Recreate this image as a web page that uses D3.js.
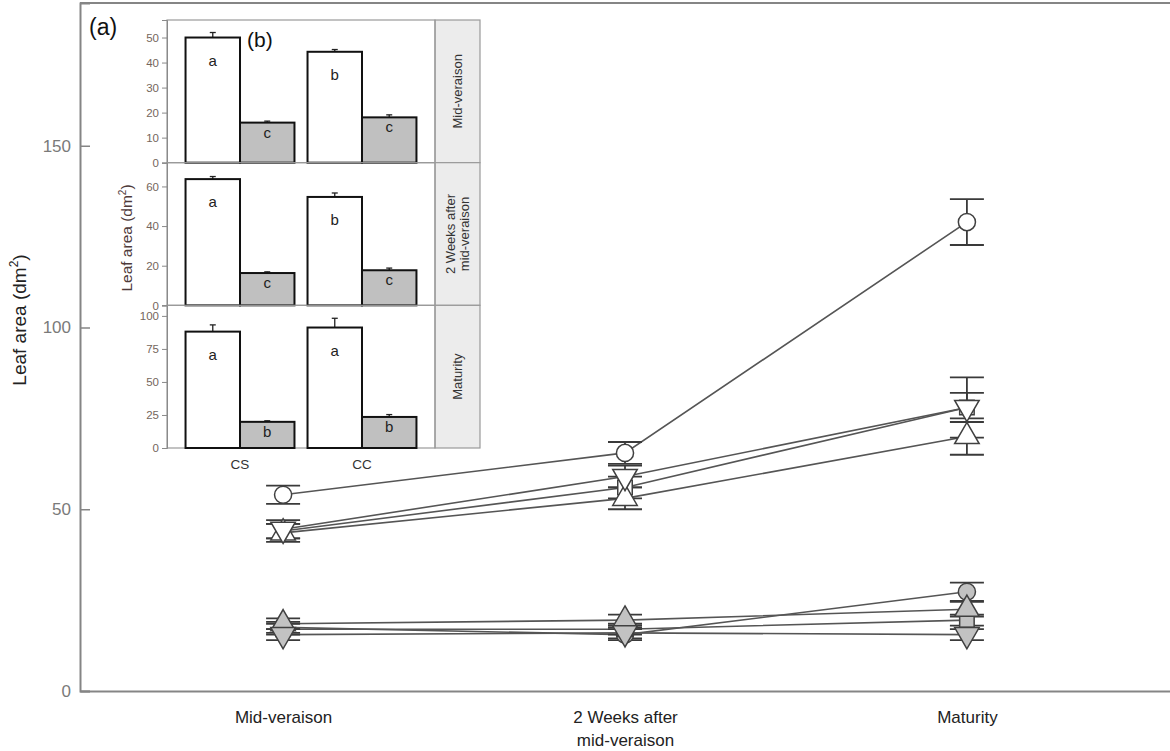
<!DOCTYPE html>
<html>
<head>
<meta charset="utf-8">
<script src="https://cdn.jsdelivr.net/npm/d3@7"></script>
<style>
  body { margin: 0; background: #fff; }
  svg text { font-family: Arial, "Liberation Sans", sans-serif; }
</style>
</head>
<body>
<svg id="chart" width="1170" height="751"></svg>
<script>
// ---- main panel (a): leaf area over three sampling stages ----
const stages = ["Mid-veraison", "2 Weeks after|mid-veraison", "Maturity"];
const yTicks = [0, 50, 100, 150];

const seriesShapes = ["circle", "square", "triangleUp", "triangleDown",
                      "circle", "square", "triangleUp", "triangleDown"];
const seriesFills  = ["open", "open", "open", "open", "grey", "grey", "grey", "grey"];
const seriesMeans = [
  [54, 65.5, 129],
  [44, 56, 78],
  [43.5, 53, 70],
  [44.5, 59, 78],
  [17.5, 15.5, 27.3],
  [17, 17, 19.5],
  [18.5, 19.5, 22.5],
  [15.5, 16, 15.5]
];
const seriesErrors = [
  [2.5, 3, 6.3],
  [2, 3, 4],
  [2.5, 3, 5],
  [2.5, 3, 8.3],
  [1.5, 1.5, 2.5],
  [1.5, 1.5, 1.5],
  [1.5, 1.5, 2],
  [1.5, 1.5, 1.5]
];

// ---- inset panel (b): CS vs CC at each stage ----
const insetGroups = ["CS", "CC"];
const insetStrips = ["Mid-veraison", "2 Weeks after|mid-veraison", "Maturity"];
const insetOpenMeans = [[50, 44.3], [63.7, 54.7], [88.1, 91.2]];
const insetOpenErr   = [[2, 0.9], [1.3, 2], [5.1, 7]];
const insetGreyMeans = [[16, 18.1], [16.3, 17.7], [19.8, 23.5]];
const insetGreyErr   = [[0.6, 1.0], [0.6, 1.1], [0.8, 1.8]];
const insetOpenLetters = [["a", "b"], ["a", "b"], ["a", "a"]];
const insetGreyLetters = [["c", "c"], ["c", "c"], ["b", "b"]];
const insetTicks = [[0, 10, 20, 30, 40, 50], [0, 20, 40, 60], [0, 25, 50, 75, 100]];
const insetMax = [57, 72, 108];

const svg = d3.select("#chart");
svg.append("rect").attr("width", 1170).attr("height", 751).attr("fill", "#fff");

const plotLeft = 80, plotRight = 1170, plotTop = 3, plotBottom = 691;
const axisColor = "#858585";

const x = d3.scalePoint().domain(stages).range([plotLeft, plotRight]).padding(0.594);
const y = d3.scaleLinear().domain([0, (plotBottom - plotTop) / 3.635]).range([plotBottom, plotTop]);

// frame: top rule, left and bottom axes
svg.append("line").attr("x1", plotLeft).attr("x2", plotRight).attr("y1", plotTop).attr("y2", plotTop)
  .attr("stroke", axisColor).attr("stroke-width", 2);

const yAxis = svg.append("g").attr("transform", `translate(${plotLeft},0)`)
  .call(d3.axisLeft(y).tickValues(yTicks).tickSize(-10).tickPadding(9));
yAxis.select(".domain").attr("stroke", axisColor).attr("stroke-width", 2);
yAxis.selectAll(".tick line").attr("stroke", axisColor).attr("stroke-width", 1.5);
yAxis.selectAll(".tick text").attr("fill", "#7a7a7a").attr("font-size", 17)
  .style("font-family", "Arial, 'Liberation Sans', sans-serif");

const xAxis = svg.append("g").attr("transform", `translate(0,${plotBottom})`)
  .call(d3.axisBottom(x).tickSize(0).tickPadding(0).tickFormat(""));
xAxis.select(".domain").attr("stroke", axisColor).attr("stroke-width", 2);
xAxis.selectAll(".tick").each(function (d) {
  const parts = d.split("|");
  const t = d3.select(this).append("text").attr("fill", "#222").attr("font-size", 17)
    .attr("text-anchor", "middle")
    .style("font-family", "Arial, 'Liberation Sans', sans-serif");
  parts.forEach((p, i) => t.append("tspan").attr("x", 0).attr("y", 32 + i * 23).text(p));
});

// y title
const yTitle = svg.append("text").attr("transform", "translate(26,320) rotate(-90)")
  .attr("text-anchor", "middle").attr("font-size", 19).attr("fill", "#222");
yTitle.append("tspan").text("Leaf area (dm");
yTitle.append("tspan").attr("font-size", 12).attr("dy", -8).text("2");
yTitle.append("tspan").attr("dy", 8).text(")");

// series lines
const line = d3.line().x((d, i) => x(stages[i])).y(d => y(d));
svg.append("g").selectAll("path").data(seriesMeans).join("path")
  .attr("d", d => line(d)).attr("fill", "none")
  .attr("stroke", "#555").attr("stroke-width", 1.6);

// error bars
const capHalf = 17;
const eb = svg.append("g").attr("stroke", "#3a3a3a").attr("stroke-width", 1.8);
seriesMeans.forEach((vals, s) => {
  vals.forEach((v, i) => {
    const cx = x(stages[i]), e = seriesErrors[s][i];
    eb.append("line").attr("x1", cx).attr("x2", cx).attr("y1", y(v - e)).attr("y2", y(v + e));
    [v - e, v + e].forEach(b => eb.append("line")
      .attr("x1", cx - capHalf).attr("x2", cx + capHalf).attr("y1", y(b)).attr("y2", y(b)));
  });
});

// markers
const symbolFor = {
  circle: d3.symbol(d3.symbolCircle, 230),
  square: d3.symbol(d3.symbolSquare, 210),
  triangleUp: d3.symbol(d3.symbolTriangle, 260),
  triangleDown: d3.symbol(d3.symbolTriangle, 260)
};
const mk = svg.append("g");
seriesMeans.forEach((vals, s) => {
  const shape = seriesShapes[s];
  vals.forEach((v, i) => {
    mk.append("path").attr("d", symbolFor[shape]())
      .attr("transform", `translate(${x(stages[i])},${y(v)})` + (shape === "triangleDown" ? " rotate(180)" : ""))
      .attr("fill", seriesFills[s] === "open" ? "#fff" : "#c2c2c2")
      .attr("stroke", "#404040").attr("stroke-width", 1.5);
  });
});

svg.append("text").attr("x", 89).attr("y", 35).attr("font-size", 23).attr("fill", "#111").text("(a)");

// ---- inset (b) ----
const inL = 167, inR = 435, stripR = 480, inTop = 20, inBottom = 448;
const panelH = (inBottom - inTop) / 3;
const inset = svg.append("g");
inset.append("rect").attr("x", inL).attr("y", inTop).attr("width", stripR - inL)
  .attr("height", inBottom - inTop).attr("fill", "#fff");

const gx = d3.scaleBand().domain(insetGroups).range([inL, inR])
  .paddingInner(0.107).paddingOuter(0.152);
const sub = d3.scaleBand().domain(["open", "grey"]).range([0, gx.bandwidth()]);

insetStrips.forEach((label, p) => {
  const pTop = inTop + p * panelH, pBot = pTop + panelH;
  const py = d3.scaleLinear().domain([0, insetMax[p]]).range([pBot, pTop]);
  const pg = inset.append("g");

  // strip
  pg.append("rect").attr("x", inR).attr("y", pTop).attr("width", stripR - inR).attr("height", panelH)
    .attr("fill", "#ececec").attr("stroke", "#9a9a9a").attr("stroke-width", 1.2);
  const st = pg.append("text")
    .attr("transform", `translate(${(inR + stripR) / 2},${pTop + panelH / 2}) rotate(-90)`)
    .attr("text-anchor", "middle").attr("font-size", 13).attr("fill", "#333");
  const lines = label.split("|");
  lines.forEach((l, i) => st.append("tspan").attr("x", 0)
    .attr("y", 4.5 + (i - (lines.length - 1) / 2) * 14.5).text(l));

  // panel box
  pg.append("rect").attr("x", inL).attr("y", pTop).attr("width", inR - inL).attr("height", panelH)
    .attr("fill", "none").attr("stroke", "#9a9a9a").attr("stroke-width", 1.2);

  // axis
  const ax = pg.append("g").attr("transform", `translate(${inL},0)`)
    .call(d3.axisLeft(py).tickValues(insetTicks[p]).tickSize(5).tickPadding(3));
  ax.select(".domain").attr("stroke", "#8a8a8a");
  ax.selectAll(".tick line").attr("stroke", "#8a8a8a");
  ax.selectAll(".tick text").attr("fill", "#75665c").attr("font-size", 11.5)
    .style("font-family", "Arial, 'Liberation Sans', sans-serif");

  // bars
  insetGroups.forEach((g, gi) => {
    [["open", insetOpenMeans, insetOpenErr, insetOpenLetters, "#fff", 28],
     ["grey", insetGreyMeans, insetGreyErr, insetGreyLetters, "#c0c0c0", 15]].forEach(
      ([key, means, errs, letters, fill, off]) => {
        const bx = gx(g) + sub(key), v = means[p][gi], e = errs[p][gi];
        const cx = bx + sub.bandwidth() / 2;
        pg.append("line").attr("x1", cx).attr("x2", cx).attr("y1", py(v)).attr("y2", py(v + e))
          .attr("stroke", "#222").attr("stroke-width", 1.3);
        pg.append("line").attr("x1", cx - 3).attr("x2", cx + 3).attr("y1", py(v + e)).attr("y2", py(v + e))
          .attr("stroke", "#222").attr("stroke-width", 1.3);
        pg.append("rect").attr("x", bx).attr("y", py(v)).attr("width", sub.bandwidth())
          .attr("height", py(0) - py(v)).attr("fill", fill).attr("stroke", "#111").attr("stroke-width", 2);
        pg.append("text").attr("x", cx).attr("y", Math.min(py(v) + off, py(0) - 6))
          .attr("text-anchor", "middle").attr("font-size", 15).attr("fill", "#222")
          .text(letters[p][gi]);
      });
  });
});

// group labels under the inset
insetGroups.forEach(g => inset.append("text").attr("x", gx(g) + gx.bandwidth() / 2).attr("y", 469)
  .attr("text-anchor", "middle").attr("font-size", 13.5).attr("fill", "#333").text(g));

// inset y title
const iy = inset.append("text").attr("transform", `translate(132,${(inTop + inBottom) / 2 + 4}) rotate(-90)`)
  .attr("text-anchor", "middle").attr("font-size", 15.5).attr("fill", "#4e3a3a");
iy.append("tspan").text("Leaf area  (dm");
iy.append("tspan").attr("font-size", 10).attr("dy", -6).text("2");
iy.append("tspan").attr("dy", 6).text(")");

inset.append("text").attr("x", 247).attr("y", 47).attr("font-size", 21).attr("fill", "#111").text("(b)");
</script>
</body>
</html>
